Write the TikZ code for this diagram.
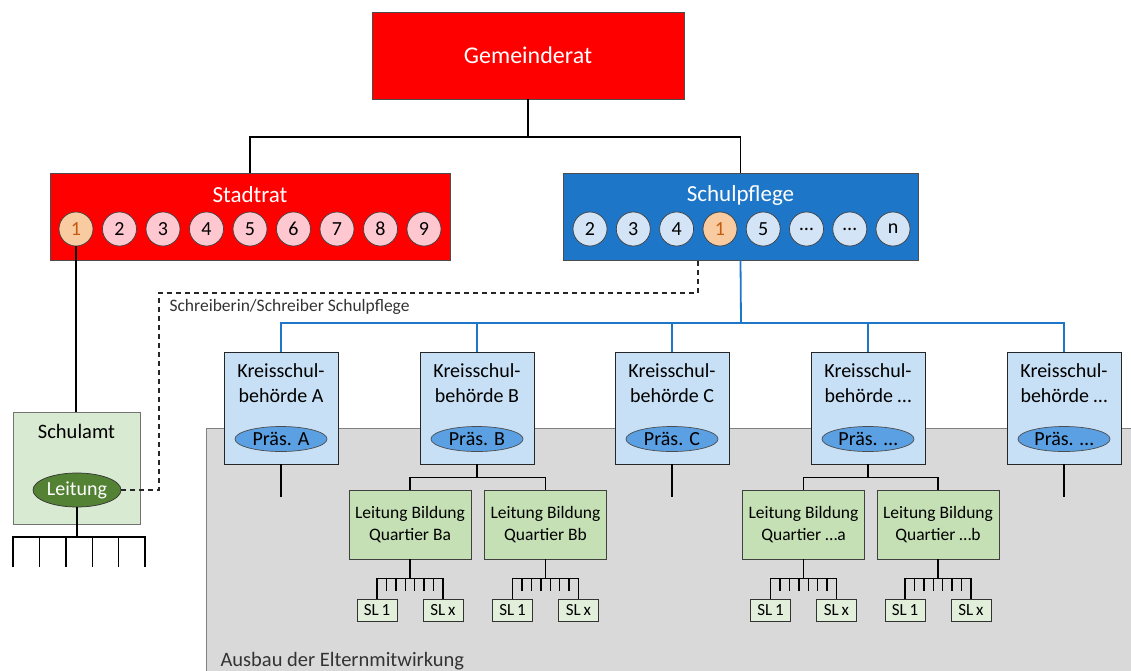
\documentclass[tikz,border=0pt]{standalone}
\usepackage
{
	fontspec,
	xcolor
}
\setmainfont{Carlito}
\usetikzlibrary{shapes.geometric}
\definecolor{grred}{RGB}{255,0,0}
\definecolor{srpink}{RGB}{255,199,208}
\definecolor{peach}{RGB}{248,203,160}
\definecolor{peachtext}{RGB}{197,90,17}
\definecolor{spblue}{RGB}{30,118,200}
\definecolor{splight}{RGB}{210,228,246}
\definecolor{kslight}{RGB}{199,224,245}
\definecolor{praesblue}{RGB}{91,160,226}
\definecolor{samtgreen}{RGB}{217,234,211}
\definecolor{leitgreen}{RGB}{84,130,53}
\definecolor{lbgreen}{RGB}{197,224,180}
\definecolor{slgreen}{RGB}{226,239,218}
\definecolor{areagray}{RGB}{217,217,217}

\begin{document}
\begin{tikzpicture}[x=1pt, y=-1pt,
	gremium/.style={rectangle, draw=black!70, line width=0.8pt, inner sep=0pt},
	titletext/.style={text=white, font=\fontsize{23}{27}\selectfont},
	member/.style={circle, draw=black!75, line width=0.7pt, minimum size=34pt, inner sep=0pt, font=\fontsize{20}{24}\selectfont},
	chair/.style={member, fill=peach, text=peachtext},
	ksbox/.style={rectangle, draw=black!85, line width=0.8pt, fill=kslight, minimum width=114, minimum height=112},
	kstext/.style={align=center, font=\fontsize{20}{25}\selectfont},
	praes/.style={ellipse, draw=black!70, line width=0.7pt, fill=praesblue, minimum width=92, minimum height=25, inner sep=0pt, font=\fontsize{20}{24}\selectfont},
	lbbox/.style={rectangle, draw=black!75, line width=0.8pt, fill=lbgreen, minimum width=122, minimum height=69, align=center, font=\fontsize{17.5}{22}\selectfont},
	slbox/.style={rectangle, draw=black!80, line width=0.7pt, fill=slgreen, minimum width=40, minimum height=22, inner sep=0pt, font=\fontsize{17}{20}\selectfont},
	link/.style={draw=black, line width=1.4pt},
	bluelink/.style={draw=spblue, line width=1.8pt},
	secdash/.style={draw=black!85, line width=1.4pt, dash pattern=on 5pt off 4pt}
]
	\useasboundingbox (0,0) rectangle (1131,670);

	\node[rectangle, draw=black!50, line width=0.8pt, fill=areagray, anchor=north west, minimum width=940, minimum height=260] (ausbau) at (206,428) {};
	\node[anchor=base west, text=black!80, font=\fontsize{20.5}{24}\selectfont] (ausbautext) at (217,666) {Ausbau der Elternmitwirkung};

	\node[gremium, fill=grred, minimum width=312, minimum height=87, text=white, font=\fontsize{24}{28}\selectfont] (gr) at (528,55.5) {Gemeinderat};

	\node[gremium, fill=grred, minimum width=400, minimum height=87] (sr) at (250,216.5) {};
	\node[titletext] (srtitle) at (250,195) {Stadtrat};
	\node[chair] (sr1) at (76,229) {1};
	\node[member, fill=srpink] (sr2) at (119.5,229) {2};
	\node[member, fill=srpink] (sr3) at (163,229) {3};
	\node[member, fill=srpink] (sr4) at (206.5,229) {4};
	\node[member, fill=srpink] (sr5) at (250,229) {5};
	\node[member, fill=srpink] (sr6) at (293.5,229) {6};
	\node[member, fill=srpink] (sr7) at (337,229) {7};
	\node[member, fill=srpink] (sr8) at (380.5,229) {8};
	\node[member, fill=srpink] (sr9) at (424,229) {9};

	\node[gremium, fill=spblue, minimum width=355, minimum height=87] (sp) at (740.5,216.5) {};
	\node[titletext] (sptitle) at (740.5,195) {Schulpflege};
	\node[member, fill=splight] (sp2) at (590,229) {2};
	\node[member, fill=splight] (sp3) at (633.3,229) {3};
	\node[member, fill=splight] (sp4) at (676.6,229) {4};
	\node[chair] (sp1) at (720,229) {1};
	\node[member, fill=splight] (sp5) at (763.2,229) {5};
	\node[member, fill=splight] (spa) at (806.5,229) {\dots};
	\node[member, fill=splight] (spb) at (849.8,229) {\dots};
	\node[member, fill=splight] (spn) at (893,229) {n};

	\coordinate (grbus) at (528,137);
	\draw[link] (gr.south) -- (grbus);
	\draw[link] (sr.north) |- (grbus) -| (sp.north);

	\node[rectangle, draw=black!55, line width=0.8pt, fill=samtgreen, minimum width=127, minimum height=112] (sa) at (76.5,468) {};
	\node[font=\fontsize{20.5}{24}\selectfont] (satitle) at (76.5,431) {Schulamt};
	\node[ellipse, draw=black!80, line width=0.7pt, fill=leitgreen, text=white, minimum width=88, minimum height=34, inner sep=0pt, font=\fontsize{20}{24}\selectfont] (le) at (77,490) {Leitung};
	\draw[link] (sr1.south) -- (sr1.south |- sa.north);

	\coordinate (sabl) at (13,537);
	\coordinate (sabr) at (145,537);
	\draw[link] (le.south) -- (le.south |- sabl);
	\draw[link] (sabl) ++(0,30) -- (sabl) -- (sabr) -- ++(0,30);
	\foreach \t in {26.4,52.8,79.2,105.6}
		\draw[link] (sabl) ++(\t,0) -- ++(0,30);

	\coordinate (dashw) at (159,293);
	\coordinate (dashe) at (698,293);
	\draw[secdash] (le.east) -| (dashw) -- (dashe) -- (dashe |- sp.south);
	\node[anchor=west, text=black!80, font=\fontsize{17.5}{21}\selectfont] (schreib) at (166,307) {Schreiberin/Schreiber Schulpflege};

	\node[ksbox] (ksA) at (281,408) {};
	\node[ksbox] (ksB) at (477,408) {};
	\node[ksbox] (ksC) at (672,408) {};
	\node[ksbox] (ksD) at (868,408) {};
	\node[ksbox] (ksE) at (1064,408) {};
	\node[kstext] (ksAt) at (281,383) {Kreisschul-\\behörde A};
	\node[kstext] (ksBt) at (477,383) {Kreisschul-\\behörde B};
	\node[kstext] (ksCt) at (672,383) {Kreisschul-\\behörde C};
	\node[kstext] (ksDt) at (868,383) {Kreisschul-\\behörde \dots};
	\node[kstext] (ksEt) at (1064,383) {Kreisschul-\\behörde \dots};
	\node[praes] (prA) at (281,439) {Präs. A};
	\node[praes] (prB) at (477,439) {Präs. B};
	\node[praes] (prC) at (672,439) {Präs. C};
	\node[praes] (prD) at (868,439) {Präs. \dots};
	\node[praes] (prE) at (1064,439) {Präs. \dots};

	\coordinate (spbus) at (741,323);
	\draw[bluelink] (sp.south) -- (spbus);
	\draw[bluelink] (ksA.north) |- (spbus) -| (ksE.north);
	\draw[bluelink] (ksB.north) -- (ksB.north |- spbus);
	\draw[bluelink] (ksC.north) -- (ksC.north |- spbus);
	\draw[bluelink] (ksD.north) -- (ksD.north |- spbus);

	\draw[link] (ksA.south) -- ++(0,33);
	\draw[link] (ksC.south) -- ++(0,33);
	\draw[link] (ksE.south) -- ++(0,33);

	\node[lbbox] (lbBa) at (410,524.5) {Leitung Bildung\\Quartier Ba};
	\node[lbbox] (lbBb) at (545.5,524.5) {Leitung Bildung\\Quartier Bb};
	\node[lbbox] (lbDa) at (803.5,524.5) {Leitung Bildung\\Quartier \dots a};
	\node[lbbox] (lbDb) at (938,524.5) {Leitung Bildung\\Quartier \dots b};
	\draw[link] (ksB.south) -- ++(0,13) coordinate (busB);
	\draw[link] (lbBa.north) |- (busB) -| (lbBb.north);
	\draw[link] (ksD.south) -- ++(0,13) coordinate (busD);
	\draw[link] (lbDa.north) |- (busD) -| (lbDb.north);

	\foreach \q in {Ba,Bb,Da,Db} {
		\node[slbox] (sl\q1) at ([xshift=-33pt, yshift=-85.5pt]lb\q.center) {SL\,1};
		\node[slbox] (sl\q x) at ([xshift=33pt, yshift=-85.5pt]lb\q.center) {SL\,x};
		\draw[link] (lb\q.south) -- ++(0,20);
		\draw[link] (sl\q1.north) -- ++(0,-20) -| (sl\q x.north);
		\foreach \t in {9.4,18.9,28.3,37.7,47.1,56.6}
			\draw[link] (sl\q1.north) ++(\t,-20) -- ++(0,12);
	}
\end{tikzpicture}
\end{document}
